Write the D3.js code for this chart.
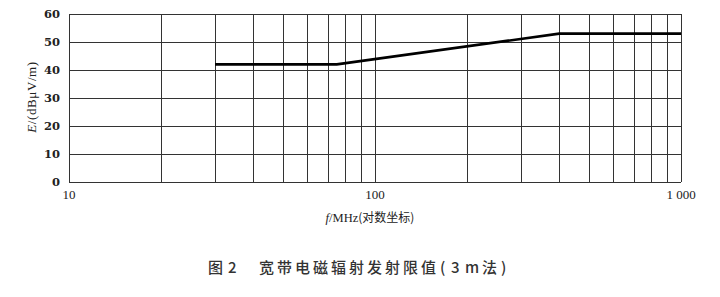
<!DOCTYPE html>
<html>
<head>
<meta charset="utf-8">
<script src="https://cdn.jsdelivr.net/npm/d3@7"></script>
<style>
  body { margin: 0; background: #fff; }
  svg text { fill: #222; }
  .serif { font-family: 'DejaVu Serif', serif; }
  .times { font-family: 'Liberation Serif', serif; }
  .cjk { font-family: 'Noto Sans CJK SC', sans-serif; }
</style>
</head>
<body>
<svg class="chart" width="720" height="297"></svg>
<script>
// limit curve, broadband 3 m method
var freqs = [30, 75, 400, 1000]
var limits = [42, 42, 53, 53]

var yTicks = [0, 10, 20, 30, 40, 50, 60]
var xLabels = [10, 100, 1000]
var xLabelText = ['10', '100', '1 000']

var m = { left: 69, right: 681, top: 14, bottom: 182 }

var svg = d3.select('svg.chart')

var x = d3.scaleLog().domain([10, 1000]).range([m.left, m.right])
var y = d3.scaleLinear().domain([0, 60]).range([m.bottom, m.top])

// all 1..9 decade lines
var xGrid = x.ticks()

var grid = svg.append('g')
grid.selectAll('line.v')
  .data(xGrid)
  .enter().append('line')
    .attr('class', 'v')
    .attr('x1', (d) => Math.round(x(d)) + 0.5)
    .attr('x2', (d) => Math.round(x(d)) + 0.5)
    .attr('y1', m.top)
    .attr('y2', m.bottom)
    .attr('stroke', '#333')
    .attr('stroke-width', 1)

grid.selectAll('line.h')
  .data(yTicks)
  .enter().append('line')
    .attr('class', 'h')
    .attr('x1', m.left)
    .attr('x2', m.right)
    .attr('y1', (d) => Math.round(y(d)) + 0.5)
    .attr('y2', (d) => Math.round(y(d)) + 0.5)
    .attr('stroke', '#333')
    .attr('stroke-width', 1)

// y tick labels
svg.append('g').selectAll('text')
  .data(yTicks)
  .enter().append('text')
    .attr('class', 'serif')
    .attr('x', m.left - 9)
    .attr('y', (d) => y(d))
    .attr('dy', '0.35em')
    .attr('text-anchor', 'end')
    .attr('font-size', 11.5)
    .attr('font-weight', 600)
    .style('fill', '#222')
    .text((d) => d)

// x labels
svg.append('g').selectAll('text')
  .data(xLabels)
  .enter().append('text')
    .attr('class', 'times')
    .attr('x', (d) => x(d))
    .attr('y', 199)
    .attr('text-anchor', 'middle')
    .attr('font-size', 13)
    .text((d, i) => xLabelText[i])

// the limit line
var line = d3.line()
  .x((d, i) => x(freqs[i]))
  .y((d) => y(d))

svg.append('path')
  .datum(limits)
  .attr('d', line)
  .attr('fill', 'none')
  .attr('stroke', '#000')
  .attr('stroke-width', 2.6)

// axis titles
var yt = svg.append('text')
  .attr('class', 'times')
  .attr('transform', 'translate(36,97) rotate(-90)')
  .attr('text-anchor', 'middle')
  .attr('font-size', 13)
  .attr('letter-spacing', 0.6)
yt.append('tspan').attr('font-style', 'italic').text('E')
yt.append('tspan').text('/(dBμV/m)')

var xt = svg.append('text')
  .attr('x', 370)
  .attr('y', 222)
  .attr('text-anchor', 'middle')
  .attr('font-size', 12.5)
xt.append('tspan').attr('class', 'times').attr('font-style', 'italic').text('f')
xt.append('tspan').attr('class', 'times').text('/MHz')
xt.append('tspan').attr('class', 'cjk').attr('font-size', 12).text('(对数坐标)')

// caption
var cap = svg.append('text')
  .attr('class', 'cjk')
  .attr('y', 273)
  .attr('font-weight', 500)
  .attr('font-size', 15)
  .style('fill', '#333')
cap.append('tspan').attr('x', 208).text('图')
cap.append('tspan').attr('x', 228).text('2')
cap.append('tspan').attr('x', 259).attr('letter-spacing', 3).text('宽带电磁辐射发射限值')
cap.append('tspan').attr('x', 440).text('(')
cap.append('tspan').attr('x', 451).text('3')
cap.append('tspan').attr('x', 465).text('m')
cap.append('tspan').attr('x', 482).text('法')
cap.append('tspan').attr('x', 501).text(')')
</script>
</body>
</html>
